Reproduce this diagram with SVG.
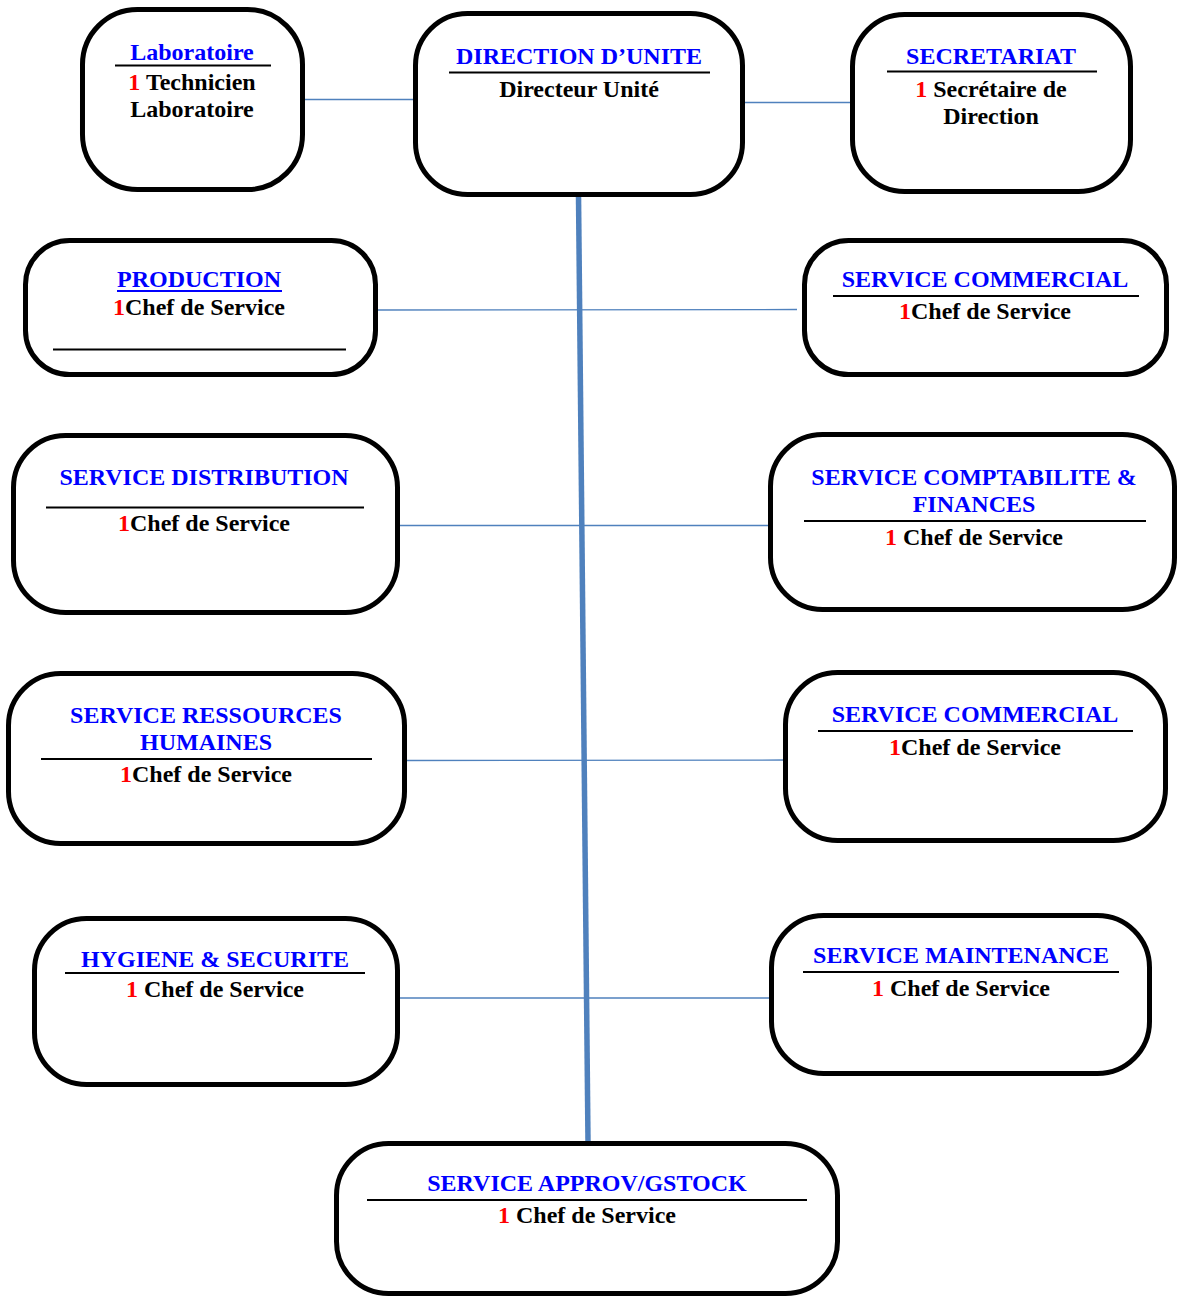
<svg xmlns="http://www.w3.org/2000/svg" width="1177" height="1296" viewBox="0 0 1177 1296" font-family="'Liberation Serif', 'Times New Roman', 'DejaVu Serif', serif">
<style>
.box{fill:#fff;stroke:#000;stroke-width:5}
.sep{stroke:#000;stroke-width:2}
.con{stroke:#4f81bd;stroke-width:1.3;fill:none}
.trunk{stroke:#4f81bd;stroke-width:5.5;fill:none}
text{font-family:'Liberation Serif','Times New Roman','DejaVu Serif',serif;font-weight:bold;font-size:24px;text-anchor:middle;fill:#000}
.t{fill:#0000ff}
.r{fill:#ff0000}
</style>
<rect width="1177" height="1296" fill="#fff"/>
<g id="connectors">
<line class="con" x1="303" y1="99.5" x2="416" y2="99.5"/>
<line class="con" x1="743" y1="102.5" x2="852" y2="102.5"/>
<line class="con" x1="376" y1="310" x2="797" y2="309.5"/>
<line class="con" x1="398" y1="525.5" x2="770" y2="525.5"/>
<line class="con" x1="405" y1="760.5" x2="786" y2="760"/>
<line class="con" x1="398" y1="998" x2="771" y2="998"/>
<line class="trunk" x1="578.5" y1="195" x2="588" y2="1142"/>
</g>
<g id="laboratoire">
<rect class="box" x="82.5" y="9.5" width="220" height="180" rx="55" ry="55"/>
<text class="t" x="192" y="60">Laboratoire</text>
<line class="sep" x1="115" y1="65.5" x2="271" y2="65.5"/>
<text x="192" y="90"><tspan class="r">1</tspan> Technicien</text>
<text x="192" y="117">Laboratoire</text>
</g>
<g id="direction">
<rect class="box" x="415.5" y="13.5" width="327" height="181" rx="52" ry="52"/>
<text class="t" x="579" y="64">DIRECTION D’UNITE</text>
<line class="sep" x1="449" y1="72.5" x2="710" y2="72.5"/>
<text x="579" y="97">Directeur Unité</text>
</g>
<g id="secretariat">
<rect class="box" x="852.5" y="14.5" width="278" height="177" rx="52" ry="52"/>
<text class="t" x="991" y="64">SECRETARIAT</text>
<line class="sep" x1="887" y1="71.5" x2="1097" y2="71.5"/>
<text x="991" y="97"><tspan class="r">1</tspan> Secrétaire de</text>
<text x="991" y="124">Direction</text>
</g>
<g id="production">
<rect class="box" x="25.5" y="240.5" width="350" height="134" rx="44" ry="44"/>
<text class="t" x="199" y="287">PRODUCTION</text>
<line x1="117" y1="291" x2="282" y2="291" stroke="#0000ff" stroke-width="2"/>
<text x="199" y="315"><tspan class="r">1</tspan>Chef de Service</text>
<line class="sep" x1="53" y1="349.5" x2="346" y2="349.5"/>
</g>
<g id="commercial1">
<rect class="box" x="804.5" y="240.5" width="362" height="134" rx="44" ry="44"/>
<text class="t" x="985" y="287">SERVICE COMMERCIAL</text>
<line class="sep" x1="833" y1="296" x2="1139" y2="296"/>
<text x="985" y="319"><tspan class="r">1</tspan>Chef de Service</text>
</g>
<g id="distribution">
<rect class="box" x="13.5" y="435.5" width="384" height="177" rx="52" ry="52"/>
<text class="t" x="204" y="485">SERVICE DISTRIBUTION</text>
<line class="sep" x1="46" y1="507.5" x2="364" y2="507.5"/>
<text x="204" y="531"><tspan class="r">1</tspan>Chef de Service</text>
</g>
<g id="comptabilite">
<rect class="box" x="770.5" y="434.5" width="404" height="175" rx="52" ry="52"/>
<text class="t" x="974" y="485">SERVICE COMPTABILITE &amp;</text>
<text class="t" x="974" y="512">FINANCES</text>
<line class="sep" x1="804" y1="521" x2="1146" y2="521"/>
<text x="974" y="545"><tspan class="r">1</tspan> Chef de Service</text>
</g>
<g id="ressources-humaines">
<rect class="box" x="8.5" y="673.5" width="396" height="170" rx="52" ry="52"/>
<text class="t" x="206" y="723">SERVICE RESSOURCES</text>
<text class="t" x="206" y="750">HUMAINES</text>
<line class="sep" x1="41" y1="759" x2="372" y2="759"/>
<text x="206" y="782"><tspan class="r">1</tspan>Chef de Service</text>
</g>
<g id="commercial2">
<rect class="box" x="785.5" y="672.5" width="380" height="168" rx="52" ry="52"/>
<text class="t" x="975" y="722">SERVICE COMMERCIAL</text>
<line class="sep" x1="818" y1="731" x2="1133" y2="731"/>
<text x="975" y="755"><tspan class="r">1</tspan>Chef de Service</text>
</g>
<g id="hygiene-securite">
<rect class="box" x="34.5" y="918.5" width="363" height="166" rx="52" ry="52"/>
<text class="t" x="215" y="967">HYGIENE &amp; SECURITE</text>
<line class="sep" x1="65" y1="973" x2="365" y2="973"/>
<text x="215" y="997"><tspan class="r">1</tspan> Chef de Service</text>
</g>
<g id="maintenance">
<rect class="box" x="771.5" y="915.5" width="378" height="158" rx="52" ry="52"/>
<text class="t" x="961" y="963">SERVICE MAINTENANCE</text>
<line class="sep" x1="803" y1="972" x2="1119" y2="972"/>
<text x="961" y="996"><tspan class="r">1</tspan> Chef de Service</text>
</g>
<g id="approv-gstock">
<rect class="box" x="336.5" y="1143.5" width="501" height="150" rx="52" ry="52"/>
<text class="t" x="587" y="1191">SERVICE APPROV/GSTOCK</text>
<line class="sep" x1="367" y1="1200" x2="807" y2="1200"/>
<text x="587" y="1223"><tspan class="r">1</tspan> Chef de Service</text>
</g>
</svg>
